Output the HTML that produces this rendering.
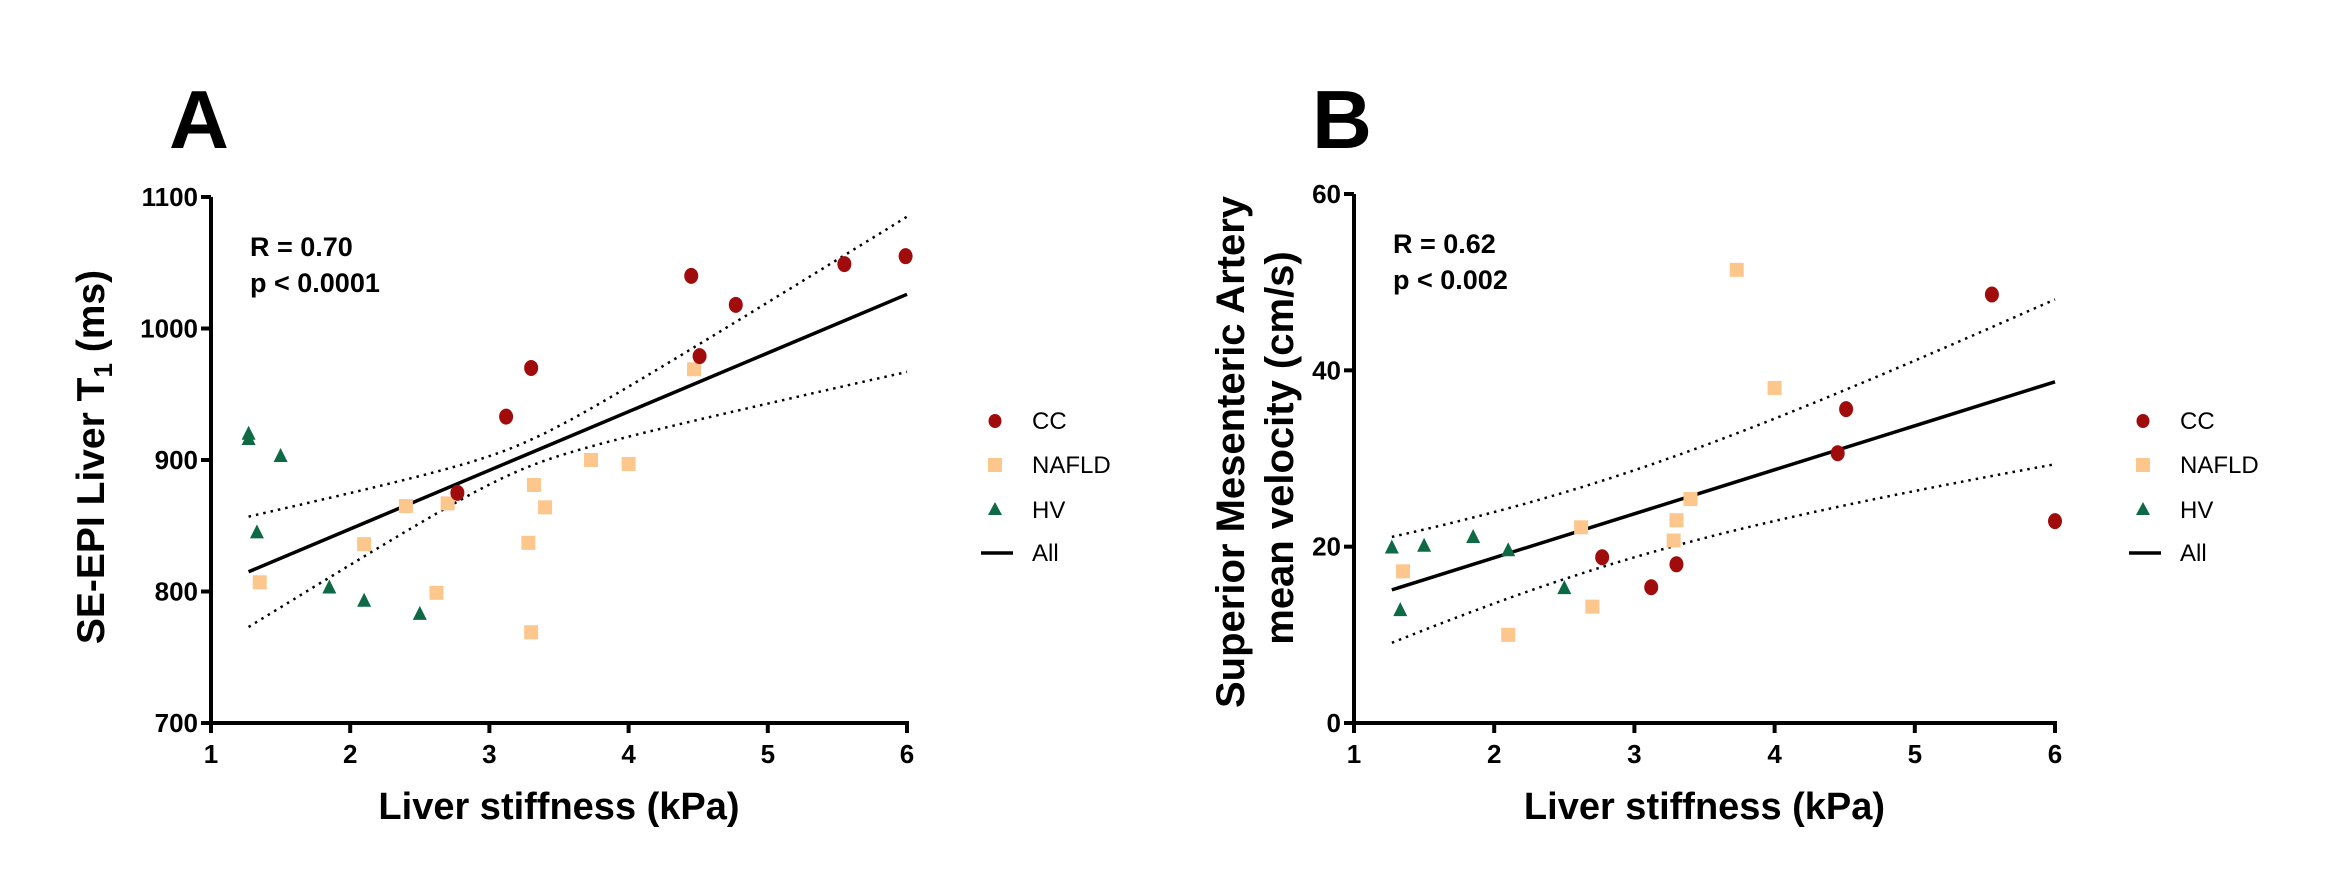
<!DOCTYPE html>
<html><head><meta charset="utf-8"><style>
html,body{margin:0;padding:0;background:#fff;}
svg{display:block;font-family:"Liberation Sans",Arial,sans-serif;}
</style></head><body>
<svg id="chart" width="2335" height="895" viewBox="0 0 2335 895" xmlns="http://www.w3.org/2000/svg"></svg>
<script>
// Panel A data
const aCCx=[2.77,3.12,3.30,4.45,4.51,4.77,5.55,5.99];
const aCCy=[875,933,970,1040,979,1018,1049,1055];
const aNAx=[1.35,2.10,2.40,2.62,2.70,3.28,3.30,3.32,3.40,3.73,4.00,4.47];
const aNAy=[807,836,865,799,867,837,769,881,864,900,897,969];
const aHVx=[1.27,1.27,1.33,1.50,1.85,2.10,2.50];
const aHVy=[916,920,845,903,803,793,783];
const aFit=[1.27,815,6,1026]; // x0,y0,x1,y1
const aCI=[95,438,3.22]; // a,b,m
const aYTicks=[700,800,900,1000,1100];
// Panel B data
const bCCx=[2.77,3.12,3.30,4.45,4.51,5.55,6.0];
const bCCy=[18.8,15.4,18.0,30.6,35.6,48.6,22.9];
const bNAx=[1.35,2.10,2.62,2.70,3.28,3.30,3.40,3.73,4.0];
const bNAy=[17.2,10.0,22.2,13.2,20.7,23.0,25.4,51.4,38.0];
const bHVx=[1.27,1.33,1.50,1.85,2.10,2.50];
const bHVy=[19.9,12.8,20.1,21.1,19.6,15.3];
const bFit=[1.27,15.1,6,38.7];
const bCI=[23.9,5.87,2.71];
const bYTicks=[0,20,40,60];
const xTicks=[1,2,3,4,5,6];

const NS="http://www.w3.org/2000/svg";
const svg=document.getElementById('chart');
function mk(tag,attrs,parent,txt){const e=document.createElementNS(NS,tag);for(const k in attrs)e.setAttribute(k,attrs[k]);if(txt!==undefined)e.textContent=txt;(parent||svg).appendChild(e);return e;}

function panel(o){
  const g=mk('g',{});
  
  
  const X=v=>o.x0+(v-1)/5*(o.x1-o.x0);
  const Y=v=>o.yb-(v-o.ymin)/(o.ymax-o.ymin)*(o.yb-o.yt);
  const ya=mk('line',{x1:o.x0,y1:o.yt,x2:o.x0,y2:o.yb,stroke:'#000','stroke-width':4},g);
  
  const xa=mk('line',{x1:o.x0-2,y1:o.yb,x2:o.x1+2,y2:o.yb,stroke:'#000','stroke-width':4},g);
  
  xTicks.forEach(t=>{
    mk('line',{x1:X(t),y1:o.yb,x2:X(t),y2:o.yb+10,stroke:'#000','stroke-width':4},g);
    const l=mk('text',{x:X(t),y:o.yb+40,'text-anchor':'middle','font-size':26,'font-weight':'bold'},g,String(t));
    
  });
  o.yt2.forEach(t=>{
    mk('line',{x1:o.x0-10,y1:Y(t),x2:o.x0,y2:Y(t),stroke:'#000','stroke-width':4},g);
    const l=mk('text',{x:o.x0-13,y:Y(t)+9,'text-anchor':'end','font-size':26,'font-weight':'bold'},g,String(t));
    
  });
  const fx0=o.fit[0],fy0=o.fit[1],fx1=o.fit[2],fy1=o.fit[3];
  const slope=(fy1-fy0)/(fx1-fx0);
  const fy=x=>fy0+slope*(x-fx0);
  const hw=x=>Math.sqrt(o.ci[0]+o.ci[1]*(x-o.ci[2])*(x-o.ci[2]));
  [1,-1].forEach(s=>{
    let d='';
    for(let i=0;i<=60;i++){const x=fx0+(fx1-fx0)*i/60;d+=(i?'L':'M')+X(x).toFixed(1)+','+Y(fy(x)+s*hw(x)).toFixed(1);}
    const p=mk('path',{d:d,fill:'none',stroke:'#000','stroke-width':2.5,'stroke-dasharray':'2.5 5'},g);
    
  });
  const fl=mk('line',{x1:X(fx0),y1:Y(fy0),x2:X(fx1),y2:Y(fy1),stroke:'#000','stroke-width':3.5},g);
  
  o.na[0].forEach((v,i)=>{const r=mk('rect',{x:X(v)-7,y:Y(o.na[1][i])-7,width:14,height:14,fill:'#fdc68c'},g);
    });
  o.hv[0].forEach((v,i)=>{const cx=X(v),cy=Y(o.hv[1][i]);const t=mk('polygon',{points:`${cx},${cy-8} ${cx-7},${cy+6} ${cx+7},${cy+6}`,fill:'#0d6a45'},g);
    });
  o.cc[0].forEach((v,i)=>{const c=mk('ellipse',{cx:X(v),cy:Y(o.cc[1][i]),rx:7,ry:8,fill:'#a00c0c'},g);
    });
  const st=mk('text',{x:o.x0+39,y:o.yt+59,'font-size':27,'font-weight':'bold'},g,o.r);
  
  const sp=mk('text',{x:o.x0+39,y:o.yt+95,'font-size':27,'font-weight':'bold'},g,o.p);
  
  const pl=mk('text',{x:o.x0-42,y:148,'font-size':83,'font-weight':'bold'},g,o.letter);
  
  const xt=mk('text',{x:(o.x0+o.x1)/2,y:819,'text-anchor':'middle','font-size':38,'font-weight':'bold'},g,'Liver stiffness (kPa)');
  
  const lx=o.x1+88,tx=o.x1+125;
  const lg=mk('g',{},g);
  mk('ellipse',{cx:lx,cy:421,rx:6.5,ry:7,fill:'#a00c0c'},lg);
  mk('text',{x:tx,y:429,'font-size':24},lg,'CC');
  mk('rect',{x:lx-7,y:458,width:14,height:14,fill:'#fdc68c'},lg);
  mk('text',{x:tx,y:473,'font-size':24},lg,'NAFLD');
  mk('polygon',{points:`${lx},${502} ${lx-7},${515} ${lx+7},${515}`,fill:'#0d6a45'},lg);
  mk('text',{x:tx,y:518,'font-size':24},lg,'HV');
  mk('line',{x1:lx-14,y1:553,x2:lx+18,y2:553,stroke:'#000','stroke-width':3.5},lg);
  mk('text',{x:tx,y:561,'font-size':24},lg,'All');
  return g;
}

panel({name:'panel-a',letter:'A',x0:211,x1:907,yt:197,yb:723,ymin:700,ymax:1100,yt2:aYTicks,
  cc:[aCCx,aCCy],na:[aNAx,aNAy],hv:[aHVx,aHVy],fit:aFit,ci:aCI,r:'R = 0.70',p:'p < 0.0001'});
panel({name:'panel-b',letter:'B',x0:1354,x1:2055,yt:194,yb:723,ymin:0,ymax:60,yt2:bYTicks,
  cc:[bCCx,bCCy],na:[bNAx,bNAy],hv:[bHVx,bHVy],fit:bFit,ci:bCI,r:'R = 0.62',p:'p < 0.002'});

const ta=mk('text',{x:0,y:0,'text-anchor':'middle','font-size':39,'font-weight':'bold',transform:'translate(104,457) rotate(-90)'});

ta.innerHTML='SE-EPI Liver T<tspan font-size="26" dy="8">1</tspan><tspan dy="-8"> (ms)</tspan>';
const tb1=mk('text',{x:0,y:0,'text-anchor':'middle','font-size':40,'font-weight':'bold',transform:'translate(1244,452) rotate(-90)'},svg,'Superior Mesenteric Artery');

const tb2=mk('text',{x:0,y:0,'text-anchor':'middle','font-size':40,'font-weight':'bold',transform:'translate(1293,448) rotate(-90)'},svg,'mean velocity (cm/s)');

</script>
</body></html>
